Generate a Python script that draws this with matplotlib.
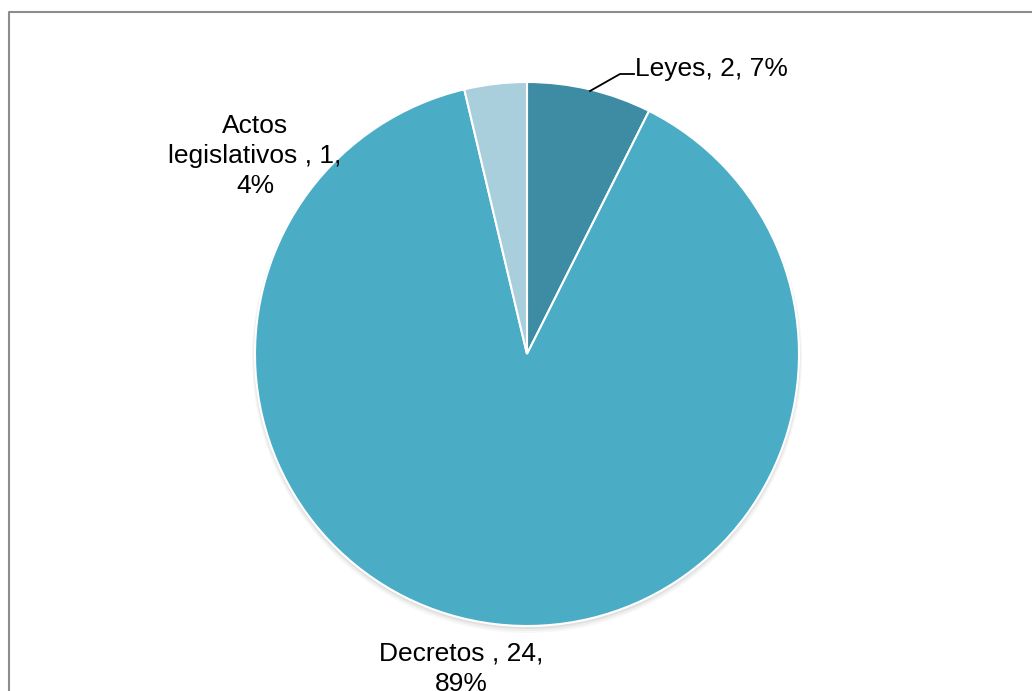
import matplotlib.pyplot as plt
from matplotlib.patches import Circle

# Datos
labels = ["Leyes", "Decretos ", "Actos legislativos "]
values = [2, 24, 1]
colors = ["#3d8ca3", "#4bacc6", "#a9cfdd"]

W, H = 1032, 691
plt.rcParams["font.family"] = ["Liberation Sans", "DejaVu Sans"]

fig = plt.figure(figsize=(W / 100, H / 100), dpi=100)
ax = fig.add_axes([0, 0, 1, 1])


def py(y):
    # coordenada en pixeles desde arriba -> datos
    return H - y


cx, cy, r = 527, py(354), 272

# sombra suave
for i, a in enumerate([0.05, 0.04, 0.03]):
    ax.add_patch(Circle((cx, cy - 2 - i), r + 1 + i, color="black", alpha=a, lw=0, zorder=0))

ax.pie(values, colors=colors, startangle=90, counterclock=False,
       center=(cx, cy), radius=r, frame=True,
       wedgeprops=dict(edgecolor="white", linewidth=1.5))
ax.set_xlim(0, W)
ax.set_ylim(0, H)
ax.set_aspect("auto")
ax.axis("off")

total = sum(values)
pct = [round(v / total * 100) for v in values]

fs = 19


def label(lines, x, y0, step, ha="center"):
    for k, s in enumerate(lines):
        ax.text(x, py(y0 + k * step), s, fontsize=fs, ha=ha, va="baseline")


label([f"{labels[0]}, {values[0]}, {pct[0]}%"], 635, 76, 0, ha="left")
ax.plot([590, 620, 634], [py(91), py(74), py(74)], color="black", lw=1.3)

label(["Actos", f"legislativos , {values[2]},", f"{pct[2]}%"], 255, 133, 30)
label([f"Decretos , {values[1]},", f"{pct[1]}%"], 461, 660, 31)

# marco
ax.plot([8.5, 8.5, W + 5], [py(H + 5), py(11.5), py(11.5)], color="#8c8c8c", lw=1.5,
        clip_on=False)

fig.savefig("out.png", dpi=100)
